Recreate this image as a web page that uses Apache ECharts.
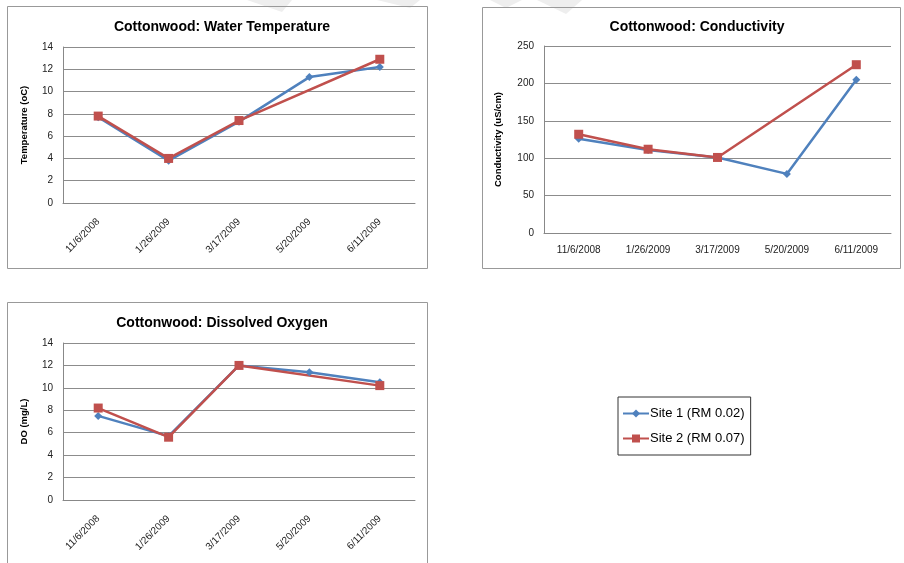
<!DOCTYPE html>
<html>
<head>
<meta charset="utf-8">
<script src="https://cdn.jsdelivr.net/npm/echarts@6/dist/echarts.min.js"></script>
<style>
html,body{margin:0;padding:0;background:#fff;}
#c{width:904px;height:563px;}
</style>
</head>
<body>
<div id="c"></div>
<script>
var categories = ['11/6/2008', '1/26/2009', '3/17/2009', '5/20/2009', '6/11/2009'];
var seriesNames = ['Site 1 (RM 0.02)', 'Site 2 (RM 0.07)'];

var tempSite1 = [7.7, 3.8, 7.3, 11.3, 12.2];
var tempSite2 = [7.8, 4.0, 7.4, null, 12.9];

var condSite1 = [126, 111, 101, 79, 205];
var condSite2 = [132, 112, 101, null, 225];

var doSite1 = [7.5, 5.7, 12.0, 11.4, 10.5];
var doSite2 = [8.2, 5.6, 12.0, null, 10.2];

var titles = ['Cottonwood: Water Temperature', 'Cottonwood: Conductivity', 'Cottonwood: Dissolved Oxygen'];
var yNames = ['Temperature (oC)', 'Conductivity (uS/cm)', 'DO (mg/L)'];

var BLUE = '#4F81BD', RED = '#C0504D', FONT = '"Liberation Sans", "DejaVu Sans", sans-serif';

var chart = echarts.init(document.getElementById('c'));

var grids = [
  {left: 63, top: 47, width: 352, height: 156},
  {left: 544, top: 46, width: 347, height: 187},
  {left: 63, top: 343, width: 352, height: 157}
];

function xAxis(i, rotate) {
  return {
    type: 'category', gridIndex: i, data: categories, boundaryGap: true,
    axisLine: {lineStyle: {color: '#888', width: 1}},
    axisTick: {show: false},
    axisLabel: {rotate: rotate, fontSize: 10, color: '#222', fontFamily: FONT, margin: rotate ? 17 : 12, interval: 0}
  };
}
function yAxis(i, max, interval, gap) {
  return {
    type: 'value', gridIndex: i, min: 0, max: max, interval: interval,
    name: yNames[i], nameLocation: 'middle', nameGap: gap, nameRotate: 90,
    nameTextStyle: {fontSize: 9.5, fontWeight: 'bold', color: '#000', fontFamily: FONT},
    axisLine: {show: true, lineStyle: {color: '#888', width: 1}},
    axisTick: {show: false},
    splitLine: {lineStyle: {color: '#8c8c8c', width: 1}},
    axisLabel: {fontSize: 10, color: '#222', fontFamily: FONT, margin: 10}
  };
}
function mkSeries(i, d1, d2) {
  return [
    {name: seriesNames[0], type: 'line', xAxisIndex: i, yAxisIndex: i, data: d1,
     symbol: 'diamond', symbolSize: 8, connectNulls: true,
     lineStyle: {color: BLUE, width: 2.5}, itemStyle: {color: BLUE}, animation: false},
    {name: seriesNames[1], type: 'line', xAxisIndex: i, yAxisIndex: i, data: d2,
     symbol: 'rect', symbolSize: 9, connectNulls: true,
     lineStyle: {color: RED, width: 2.5}, itemStyle: {color: RED}, animation: false}
  ];
}

var boxStyle = {fill: 'none', stroke: '#999', lineWidth: 1};
var wm = {fill: '#eeeeee'};
var titleStyle = {fontSize: 14, fontWeight: 'bold', color: '#000', fontFamily: FONT};

chart.setOption({
  backgroundColor: '#fff',
  animation: false,
  graphic: [
    {type: 'polygon', shape: {points: [[247,0],[292,0],[282,12]]}, style: wm, z: -10},
    {type: 'polygon', shape: {points: [[377,0],[420,0],[410,8]]}, style: wm, z: -10},
    {type: 'polygon', shape: {points: [[490,0],[522,0],[506,8]]}, style: wm, z: -10},
    {type: 'polygon', shape: {points: [[537,0],[582,0],[566,14]]}, style: wm, z: -10},
    {type: 'rect', shape: {x: 7.5, y: 6.5, width: 420, height: 262}, style: boxStyle, z: -5},
    {type: 'rect', shape: {x: 482.5, y: 7.5, width: 418, height: 261}, style: boxStyle, z: -5},
    {type: 'rect', shape: {x: 7.5, y: 302.5, width: 420, height: 300}, style: boxStyle, z: -5}
  ],
  title: [
    {text: titles[0], left: 217, top: 15, textAlign: 'center', textStyle: titleStyle},
    {text: titles[1], left: 692, top: 15, textAlign: 'center', textStyle: titleStyle},
    {text: titles[2], left: 217, top: 311, textAlign: 'center', textStyle: titleStyle}
  ],
  legend: {
    data: seriesNames, orient: 'vertical', left: 618, top: 397,
    padding: [10, 6, 10, 4], itemGap: 12, itemWidth: 26, itemHeight: 10,
    borderColor: '#333', borderWidth: 1,
    textStyle: {fontSize: 13, color: '#000', fontFamily: FONT, padding: [0, 0, 0, -4]}
  },
  grid: grids,
  xAxis: [xAxis(0, 45), xAxis(1, 0), xAxis(2, 45)],
  yAxis: [yAxis(0, 14, 2, 34), yAxis(1, 250, 50, 41), yAxis(2, 14, 2, 34)],
  series: [].concat(mkSeries(0, tempSite1, tempSite2), mkSeries(1, condSite1, condSite2), mkSeries(2, doSite1, doSite2))
});
</script>
</body>
</html>
